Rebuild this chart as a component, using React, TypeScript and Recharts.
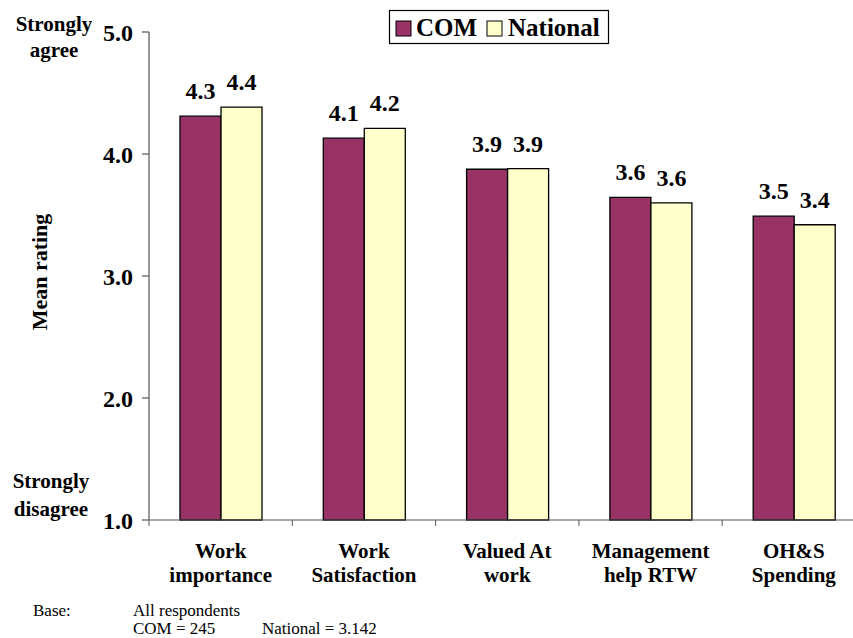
import { Bar, BarChart, LabelList, XAxis, YAxis } from "recharts";

const categories = [
  "Work\nimportance",
  "Work\nSatisfaction",
  "Valued At\nwork",
  "Management\nhelp RTW",
  "OH&S\nSpending",
];
const comValues = [4.31, 4.13, 3.875, 3.645, 3.49];
const nationalValues = [4.385, 4.21, 3.88, 3.6, 3.42];
const yTicks = [1, 2, 3, 4, 5];

const data = categories.map((name, i) => ({
  name,
  com: comValues[i],
  national: nationalValues[i],
}));

const FONT = '"Liberation Serif", "Times New Roman", serif';
const AXIS = "#555";
const COM_COLOR = "#993366";
const NAT_COLOR = "#FFFFCC";

function CategoryTick({ x, y, payload }: any) {
  const lines = String(payload.value).split("\n");
  const half = payload.offset || 71.65;
  return (
    <g>
      <line x1={x - half} x2={x - half} y1={y} y2={y + 6} stroke={AXIS} />
      <text x={x} y={y} textAnchor="middle" fontFamily={FONT} fontWeight="bold" fontSize={21} fill="#000">
        {lines.map((line, i) => (
          <tspan key={i} x={x} dy={i === 0 ? 38 : 24}>
            {line}
          </tspan>
        ))}
      </text>
    </g>
  );
}

const labelStyle = { fill: "#000", fontSize: 24, fontWeight: "bold", fontFamily: FONT };

export default function App() {
  return (
    <div style={{ position: "absolute", left: 0, top: 0, width: 853, height: 638, overflow: "hidden", background: "#fff" }}>
      <BarChart
        width={870}
        height={638}
        data={data}
        margin={{ top: 32, right: 4.5, bottom: 58, left: 0 }}
        barGap={0}
      >
        <XAxis
          dataKey="name"
          height={60}
          interval={0}
          tickSize={0}
          tickMargin={0}
          tickLine={false}
          axisLine={{ stroke: AXIS, strokeWidth: 1.2 }}
          tick={<CategoryTick />}
        />
        <YAxis
          width={149}
          type="number"
          domain={[1, 5]}
          ticks={yTicks}
          interval={0}
          tickSize={7}
          tickMargin={9}
          tickFormatter={(v) => Number(v).toFixed(1)}
          axisLine={{ stroke: AXIS, strokeWidth: 1.2 }}
          tickLine={{ stroke: AXIS, strokeWidth: 1.2 }}
          tick={labelStyle}
        />
        <Bar dataKey="com" name="COM" fill={COM_COLOR} stroke="#000" strokeWidth={1.3} barSize={41} isAnimationActive={false}>
          <LabelList dataKey="com" position="top" offset={17} formatter={(v: any) => Number(v).toFixed(1)} {...labelStyle} />
        </Bar>
        <Bar dataKey="national" name="National" fill={NAT_COLOR} stroke="#000" strokeWidth={1.3} barSize={41} isAnimationActive={false}>
          <LabelList dataKey="national" position="top" offset={17} formatter={(v: any) => Number(v).toFixed(1)} {...labelStyle} />
        </Bar>
      </BarChart>

      <svg width={853} height={638} style={{ position: "absolute", left: 0, top: 0, pointerEvents: "none" }}>
        <g fontFamily={FONT} fontWeight="bold" fill="#000">
          <text x={54} y={31} fontSize={21} textAnchor="middle">Strongly</text>
          <text x={54} y={57} fontSize={21} textAnchor="middle">agree</text>
          <text x={51} y={488} fontSize={21} textAnchor="middle">Strongly</text>
          <text x={51} y={516} fontSize={21} textAnchor="middle">disagree</text>
          <text x={46.5} y={272} fontSize={22} textAnchor="middle" transform="rotate(-90 46.5 272)">
            Mean rating
          </text>
        </g>
        <g>
          <rect x={389.5} y={10.5} width={219} height={33} fill="#fff" stroke="#000" strokeWidth={1.2} />
          <rect x={396} y={21} width={15} height={15} fill={COM_COLOR} stroke="#000" />
          <text x={416} y={36} fontFamily={FONT} fontWeight="bold" fontSize={25}>COM</text>
          <rect x={487} y={21} width={15} height={15} fill={NAT_COLOR} stroke="#000" />
          <text x={508} y={36} fontFamily={FONT} fontWeight="bold" fontSize={25}>National</text>
        </g>
        <g fontFamily={FONT} fontSize={17} fill="#000">
          <text x={33} y={616}>Base:</text>
          <text x={133} y={616}>All respondents</text>
          <text x={133} y={634}>COM = 245</text>
          <text x={262} y={634}>National = 3.142</text>
        </g>
      </svg>
    </div>
  );
}
